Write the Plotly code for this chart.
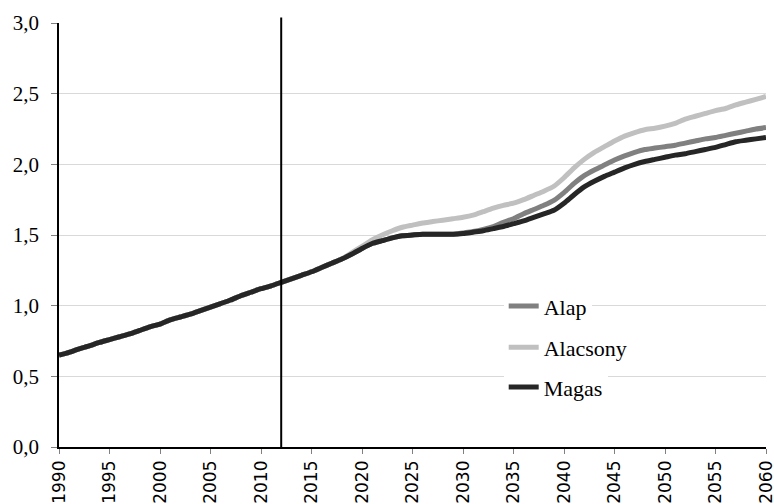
import plotly.graph_objects as go

years_hist = list(range(1990, 2013))
hist = [0.65, 0.67, 0.695, 0.715, 0.74, 0.76, 0.78, 0.80, 0.825, 0.85, 0.87,
        0.90, 0.92, 0.94, 0.965, 0.99, 1.015, 1.04, 1.07, 1.095, 1.12, 1.14, 1.165]

years_proj = list(range(2013, 2061))
common_2013_2018 = [1.19, 1.215, 1.24, 1.27, 1.30, 1.33]

alap_proj = common_2013_2018 + [
    1.365, 1.405, 1.44, 1.46, 1.48, 1.495, 1.50, 1.505, 1.505, 1.505, 1.505,
    1.515, 1.525, 1.54, 1.56, 1.59, 1.615, 1.65, 1.68, 1.71, 1.745,
    1.80, 1.865, 1.92, 1.96, 1.995, 2.03, 2.06, 2.085, 2.105, 2.115,
    2.125, 2.135, 2.15, 2.165, 2.18, 2.19, 2.205, 2.22, 2.235, 2.25, 2.26]

alacsony_proj = common_2013_2018 + [
    1.375, 1.42, 1.465, 1.50, 1.53, 1.555, 1.57, 1.585, 1.595, 1.605, 1.615,
    1.625, 1.64, 1.665, 1.69, 1.71, 1.725, 1.75, 1.78, 1.81, 1.845,
    1.905, 1.975, 2.035, 2.085, 2.125, 2.165, 2.20, 2.225, 2.245, 2.255,
    2.27, 2.29, 2.32, 2.34, 2.36, 2.38, 2.395, 2.42, 2.44, 2.46, 2.48]

magas_proj = common_2013_2018 + [
    1.365, 1.405, 1.44, 1.46, 1.48, 1.495, 1.50, 1.505, 1.505, 1.505, 1.505,
    1.51, 1.52, 1.53, 1.545, 1.56, 1.58, 1.60, 1.625, 1.65, 1.675,
    1.725, 1.785, 1.84, 1.88, 1.915, 1.945, 1.975, 2.00, 2.02, 2.035,
    2.05, 2.065, 2.075, 2.09, 2.105, 2.12, 2.14, 2.16, 2.17, 2.18, 2.19]

series_names = ["Alap", "Alacsony", "Magas"]
series_values = [alap_proj, alacsony_proj, magas_proj]
series_colors = ["#808080", "#c0c0c0", "#262626"]
legend_ids = ["legend", "legend2", "legend3"]

forecast_start = 2012
y_ticks = [0, 0.5, 1.0, 1.5, 2.0, 2.5, 3.0]
x_ticks = list(range(1990, 2061, 5))

years_all = years_hist + years_proj

fig = go.Figure()
for name, vals, col, lg in zip(series_names, series_values, series_colors, legend_ids):
    fig.add_trace(go.Scatter(
        x=years_all, y=hist + vals, mode="lines", name=name,
        line=dict(color=col, width=5, shape="spline", smoothing=0.5),
        legend=lg, hoverinfo="skip",
    ))

fig.add_shape(type="line", xref="x", yref="paper", x0=forecast_start, x1=forecast_start,
              y0=0, y1=1.013, line=dict(color="black", width=2))

serif = "Liberation Serif"
leg_common = dict(bgcolor="white", borderwidth=0, font=dict(family=serif, size=22, color="black"),
                  xanchor="left", yanchor="middle", itemwidth=30, x=0.629)

fig.update_layout(
    width=774, height=504,
    margin=dict(l=59, r=8, t=23, b=57),
    paper_bgcolor="white", plot_bgcolor="white",
    separators=", ",
    showlegend=True,
    hovermode=False,
    legend=dict(**leg_common, y=0.332),
    legend2=dict(**leg_common, y=0.235),
    legend3=dict(**leg_common, y=0.141),
    xaxis=dict(range=[1990, 2060], tickmode="array", tickvals=x_ticks,
               tickangle=-90, ticks="outside", ticklen=5, tickcolor="#808080",
               showline=True, linecolor="black", linewidth=1.5,
               showgrid=False, zeroline=False, automargin=False,
               ticklabeloverflow="allow",
               tickfont=dict(family="DejaVu Sans", size=17, color="black")),
    yaxis=dict(range=[0, 3], tickmode="array", tickvals=y_ticks, tickformat=".1f",
               ticks="outside", ticklen=6, tickcolor="#808080",
               showline=True, linecolor="black", linewidth=1.5,
               showgrid=True, gridcolor="#d9d9d9", gridwidth=1, zeroline=False,
               automargin=False, ticklabelstandoff=8,
               tickfont=dict(family=serif, size=21, color="black")),
)

fig.write_html("out.html", config={"displayModeBar": False},
               post_script="document.body.style.margin='0';")
